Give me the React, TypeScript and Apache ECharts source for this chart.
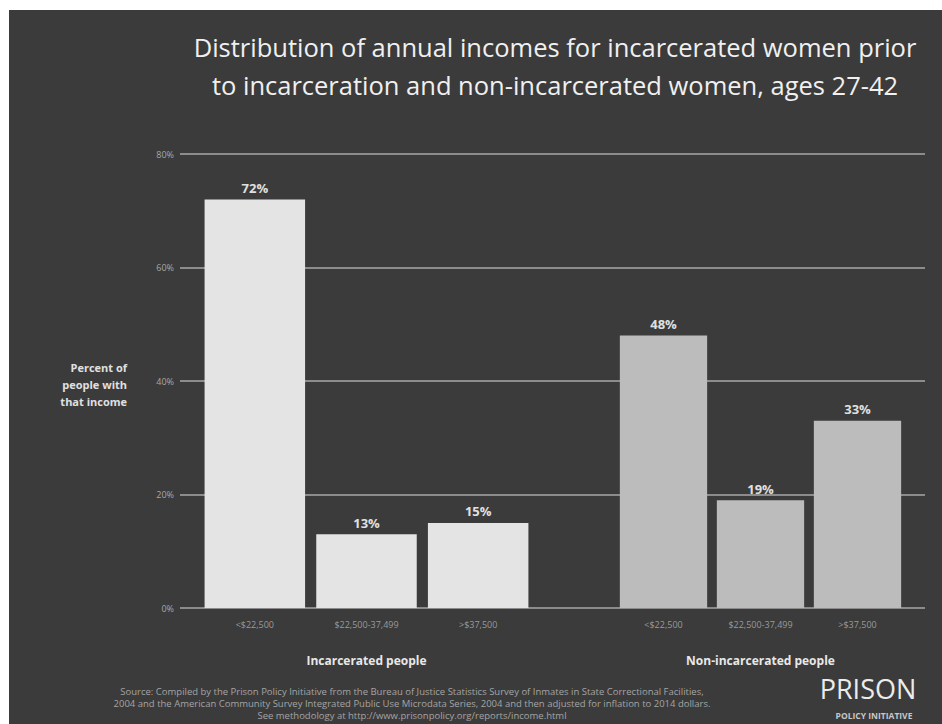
import React, { useEffect, useRef } from "react";
import * as echarts from "echarts";

const incomeBrackets = ["<$22,500", "$22,500-37,499", ">$37,500"];
const incarceratedValues = [72, 13, 15];
const nonIncarceratedValues = [48, 19, 33];
const yTicks = [0, 20, 40, 60, 80];
const titleLines = [
  "Distribution of annual incomes for incarcerated women prior",
  "to incarceration and non-incarcerated women, ages 27-42",
];
const groupNames = ["Incarcerated people", "Non-incarcerated people"];
const sourceLines = [
  "Source: Compiled by the Prison Policy Initiative from the Bureau of Justice Statistics Survey of Inmates in State Correctional Facilities,",
  "2004 and the American Community Survey Integrated Public Use Microdata Series, 2004 and then adjusted for inflation to 2014 dollars.",
  "See methodology at http://www.prisonpolicy.org/reports/income.html",
];

const BG = "#3b3b3b";
const GRID_LINE = "#8c8c8c";
const FONT = "'Open Sans', 'DejaVu Sans', sans-serif";

export default function App() {
  const ref = useRef<HTMLDivElement>(null);
  useEffect(() => {
    if (!ref.current) return;
    const chart = echarts.init(ref.current, null, { renderer: "svg" });
    const top = 154;
    const bottom = 116;
    const hiddenY = (gridIndex: number) => ({
      type: "value",
      gridIndex,
      min: yTicks[0],
      max: yTicks[yTicks.length - 1],
      interval: 20,
      show: false,
    });
    const catX = (gridIndex: number, name: string) => ({
      type: "category",
      gridIndex,
      data: incomeBrackets,
      axisLine: { show: false },
      axisTick: { show: false },
      axisLabel: { color: "#9a9a9a", fontSize: 9, margin: 12, fontFamily: FONT },
      name,
      nameLocation: "middle",
      nameGap: 46,
      nameTextStyle: { color: "#e8e8e8", fontSize: 12, fontWeight: "bold", fontFamily: FONT },
    });
    const barLabel = {
      show: true,
      position: "top",
      distance: 5,
      formatter: "{c}%",
      color: "#e0e0e0",
      fontSize: 13,
      fontWeight: "bold",
      fontFamily: FONT,
    };
    chart.setOption({
      animation: false,
      backgroundColor: "#ffffff",
      grid: [
        { left: 180, right: 17, top, bottom },
        { left: 199, width: 335, top, bottom },
        { left: 615, width: 291, top, bottom },
      ],
      xAxis: [
        { type: "value", gridIndex: 0, min: 0, max: 1, show: false },
        catX(1, groupNames[0]),
        catX(2, groupNames[1]),
      ],
      yAxis: [
        {
          type: "value",
          gridIndex: 0,
          min: yTicks[0],
          max: yTicks[yTicks.length - 1],
          interval: 20,
          axisLine: { show: false },
          axisTick: { show: false },
          axisLabel: {
            formatter: "{value}%",
            color: "#a8a8a8",
            fontSize: 9,
            margin: 6,
            fontFamily: FONT,
          },
          splitLine: { show: true, lineStyle: { color: GRID_LINE, width: 2 } },
        },
        hiddenY(1),
        hiddenY(2),
      ],
      graphic: [
        {
          type: "rect",
          z: -10,
          shape: { x: 9, y: 10, width: 933, height: 714 },
          style: { fill: BG },
          silent: true,
        },
        {
          type: "text",
          x: 555,
          y: 47,
          style: {
            text: titleLines[0],
            fill: "#f0f0f0",
            font: `25.5px ${FONT}`,
            align: "center",
            verticalAlign: "middle",
          },
        },
        {
          type: "text",
          x: 555,
          y: 85,
          style: {
            text: titleLines[1],
            fill: "#f0f0f0",
            font: `25.5px ${FONT}`,
            align: "center",
            verticalAlign: "middle",
          },
        },
        {
          type: "text",
          x: 127,
          y: 384,
          style: {
            text: "Percent of\npeople with\nthat income",
            fill: "#e0e0e0",
            font: `bold 11px ${FONT}`,
            align: "right",
            verticalAlign: "middle",
            lineHeight: 17,
          },
        },
        {
          type: "text",
          x: 412,
          y: 703,
          style: {
            text: sourceLines.join("\n"),
            fill: "#a4a4a4",
            font: `9.5px ${FONT}`,
            align: "center",
            verticalAlign: "middle",
            lineHeight: 12,
          },
        },
        {
          type: "text",
          x: 868,
          y: 702,
          style: {
            text: "PRISON",
            fill: "#ececec",
            font: `27px ${FONT}`,
            align: "center",
            verticalAlign: "bottom",
            lineHeight: 27,
          },
        },
        {
          type: "text",
          x: 874,
          y: 711,
          style: {
            text: "POLICY INITIATIVE",
            fill: "#c8c8c8",
            font: `bold 8.5px ${FONT}`,
            align: "center",
            verticalAlign: "top",
            lineHeight: 9,
          },
        },
      ],
      series: [
        {
          type: "bar",
          xAxisIndex: 1,
          yAxisIndex: 1,
          data: incarceratedValues,
          barWidth: "90%",
          itemStyle: { color: "#e4e4e4" },
          label: barLabel,
        },
        {
          type: "bar",
          xAxisIndex: 2,
          yAxisIndex: 2,
          data: nonIncarceratedValues,
          barWidth: "90%",
          itemStyle: { color: "#bcbcbc" },
          label: barLabel,
        },
      ],
    });
    return () => chart.dispose();
  }, []);
  return <div ref={ref} style={{ width: 942, height: 724, position: "absolute", left: 0, top: 0 }} />;
}
